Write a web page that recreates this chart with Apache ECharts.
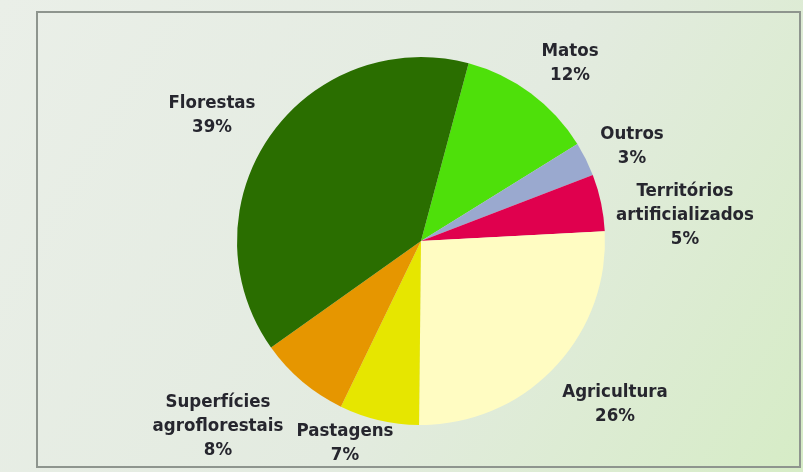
<!DOCTYPE html>
<html>
<head>
<meta charset="utf-8">
<script src="https://cdn.jsdelivr.net/npm/echarts@6/dist/echarts.min.js"></script>
<style>
  html, body { margin: 0; padding: 0; }
  #chart { width: 803px; height: 472px; }
</style>
</head>
<body>
<div id="chart"></div>
<script>
  // categorias e percentagens (ordem dos ponteiros do relógio, a partir do topo)
  const categorias = ['Matos', 'Outros', 'Territórios\nartificializados', 'Agricultura', 'Pastagens', 'Superfícies\nagroflorestais', 'Florestas'];
  const valores = [12, 3, 5, 26, 7, 8, 39];
  const cores = ['#4ee00a', '#9aa9cf', '#e0004e', '#fffcc2', '#e6e600', '#e69600', '#2a6e00'];

  // posição das etiquetas (centro do bloco de texto)
  const posEtiquetas = [[570, 63], [632, 146], [685, 215], [615, 404], [345, 443], [218, 426], [212, 115]];

  let myChart = echarts.init(document.getElementById('chart'));

  const dados = [];
  for (let i = 0; i < categorias.length; i++) {
    dados.push({ name: categorias[i], value: valores[i], itemStyle: { color: cores[i] } });
  }

  myChart.setOption({
    backgroundColor: {
      type: 'linear', x: 0, y: 0, x2: 1, y2: 1,
      colorStops: [
        { offset: 0, color: '#eaefe8' },
        { offset: 0.55, color: '#e3ebe0' },
        { offset: 1, color: '#d6ecc6' }
      ]
    },
    graphic: [
      {
        type: 'rect',
        shape: { x: 37, y: 12, width: 763, height: 455 },
        style: { fill: 'none', stroke: '#8e958e', lineWidth: 2 },
        z: 0
      }
    ],
    series: [
      {
        type: 'pie',
        center: [421, 241],
        radius: 184,
        startAngle: 75,
        clockwise: true,
        animation: false,
        data: dados,
        itemStyle: { borderWidth: 0 },
        label: {
          show: true,
          position: 'outside',
          formatter: '{b}\n{d}%',
          fontFamily: 'DejaVu Sans Condensed',
          fontWeight: 'bold',
          fontSize: 18.5,
          lineHeight: 24,
          color: '#26262e',
          align: 'center'
        },
        labelLine: { show: false },
        labelLayout: function (params) {
          const p = posEtiquetas[params.dataIndex];
          return { x: p[0], y: p[1], align: 'center', verticalAlign: 'middle', hideOverlap: false };
        },
        emphasis: { disabled: true }
      }
    ]
  });
</script>
</body>
</html>
